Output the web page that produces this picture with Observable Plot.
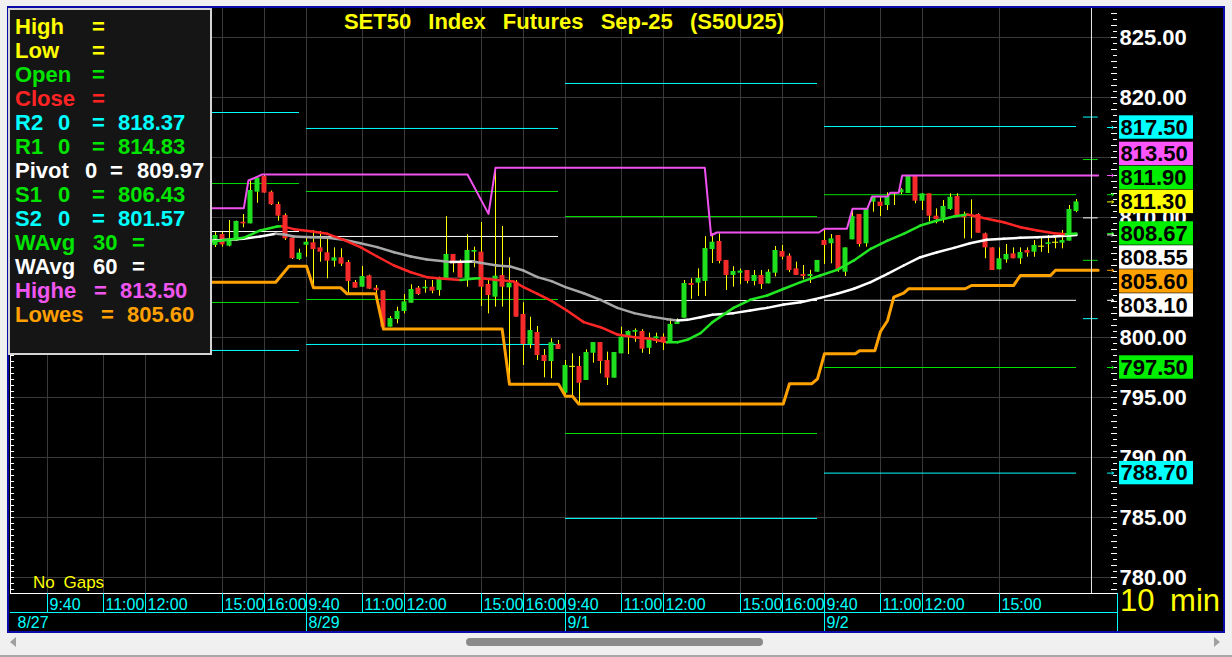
<!DOCTYPE html>
<html>
<head>
<meta charset="utf-8">
<script src="https://cdn.jsdelivr.net/npm/d3@7"></script>
<script src="https://cdn.jsdelivr.net/npm/@observablehq/plot@0.6"></script>
<style>
html,body{margin:0;padding:0;width:1232px;height:657px;overflow:hidden;background:#f0f0f0;}
body{position:relative;font-family:"Liberation Sans",Arial,sans-serif;}
#win{position:absolute;left:7px;top:6px;width:1218px;height:627px;box-sizing:border-box;border:2px solid #0a0aa8;background:#000;}
#chart{position:absolute;left:0;top:0;}
#title{position:absolute;left:0;width:1128px;top:9px;text-align:center;color:#ffff00;font:bold 22px "Liberation Sans",Arial,sans-serif;word-spacing:11px;line-height:26px;white-space:pre;}
#legend{position:absolute;left:8px;top:8px;width:204px;height:347px;box-sizing:border-box;border:2px solid #d4d4d4;background:#151515;}
.lg{position:absolute;font:bold 22px "Liberation Sans",Arial,sans-serif;line-height:24px;white-space:pre;}
#nogaps{position:absolute;left:33px;top:574px;color:#ffff00;font:17px "Liberation Sans",Arial,sans-serif;word-spacing:4px;line-height:18px;}
#tf{position:absolute;left:1120px;top:584px;color:#ffff00;font:31px "Liberation Sans",Arial,sans-serif;word-spacing:7px;line-height:34px;}
#thumb{position:absolute;left:466px;top:638px;width:297px;height:8px;border-radius:4px;background:#8a8a8a;}
#la{position:absolute;left:10px;top:637px;width:0;height:0;border-top:5px solid transparent;border-bottom:5px solid transparent;border-right:6px solid #a0a0a0;}
#ra{position:absolute;left:1214px;top:637px;width:0;height:0;border-top:5px solid transparent;border-bottom:5px solid transparent;border-left:6px solid #a0a0a0;}
#bl{position:absolute;left:0;top:655px;width:1232px;height:2px;background:#a8a8a8;}
</style>
</head>
<body>
<div id="win"></div>
<div id="chart"></div>
<div id="title">SET50 Index Futures Sep-25 (S50U25)</div>
<div id="legend"></div>
<div id="nogaps">No Gaps</div>
<div id="tf">10 min</div>
<div id="la"></div><div id="thumb"></div><div id="ra"></div>
<div id="bl"></div>
<script>
// ---------------- DATA ----------------
// bar slot: 0 = 8/29 09:40, one slot per 10-minute bar
const barSlot = d3.range(-13, 111);
const open = [
 807.67,808.58,807.61,808.03,809.61,809.47,812.11,813.42,812.11,811.08,810.17,808.28,806.50,
 807.69,807.89,807.47,807.06,806.36,806.64,806.25,804.58,804.19,805.14,804.11,803.89,800.86,801.50,802.17,802.86,804.11,804.06,804.19,803.92,804.89,806.92,806.19,804.89,807.11,807.11,804.42,803.36,805.17,804.14,804.61,801.92,799.42,800.42,798.50,798.00,799.42,
 795.36,797.60,797.58,796.42,798.69,799.58,798.08,796.61,798.64,800.00,800.44,800.50,799.10,799.89,800.03,799.50,801.08,801.61,804.50,804.53,804.67,807.33,808.00,806.42,805.17,805.36,805.58,804.67,805.17,804.47,805.36,807.17,806.78,805.72,805.25,805.08,805.44,
 808.08,807.81,808.50,805.44,808.14,810.25,807.81,811.28,811.28,811.00,812.06,812.06,812.00,813.50,811.36,811.97,810.11,809.94,810.67,811.75,810.25,810.17,810.25,808.64,807.47,805.64,806.47,806.97,806.56,807.25,807.11,807.61,807.75,807.94,807.86,808.03,810.50];
const high = [
 808.75,808.78,809.75,809.70,810.25,813.03,813.28,813.58,812.20,811.28,810.30,808.30,807.36,
 808.42,808.92,808.83,808.22,807.47,807.39,806.42,804.75,805.92,805.20,804.33,803.90,801.75,802.53,803.58,804.39,804.25,804.75,804.75,805.03,810.08,806.92,806.47,808.56,807.53,809.58,804.89,814.14,809.25,806.64,804.75,802.90,801.69,800.92,799.00,799.89,799.75,
 798.08,798.64,798.42,798.97,799.58,799.58,798.78,798.75,800.86,800.55,800.72,800.64,800.36,800.36,800.30,801.55,801.55,804.75,804.89,805.72,808.40,808.64,808.64,806.42,805.90,805.70,805.58,805.58,805.58,805.65,807.58,807.67,806.97,806.28,806.00,805.60,806.42,
 809.06,808.58,808.50,807.47,810.58,810.25,810.72,811.75,811.75,812.06,812.06,812.40,813.50,813.50,811.97,811.97,810.72,811.42,811.97,811.97,810.45,811.47,810.30,808.70,807.47,807.47,807.75,807.47,807.47,807.47,808.08,808.30,808.50,808.30,808.92,811.00,811.50];
const low = [
 807.50,807.53,807.55,808.00,809.14,809.47,811.19,812.03,811.00,809.69,808.08,806.50,806.42,
 806.69,804.14,806.28,804.89,805.86,805.92,803.64,804.11,804.19,804.00,803.64,800.86,800.86,801.14,801.97,802.86,803.50,803.69,803.64,803.44,804.75,805.39,804.97,804.19,805.81,802.58,801.97,802.53,802.53,796.10,801.69,797.67,799.06,798.08,796.64,796.56,799.00,
 795.17,795.08,794.47,796.42,797.86,796.97,796.00,796.61,798.64,798.58,799.60,798.69,798.58,799.50,798.92,799.50,801.08,801.61,803.18,803.42,803.42,806.17,806.14,803.92,804.20,804.40,804.47,804.30,804.00,804.47,805.05,806.47,805.40,805.17,804.80,804.50,805.44,
 806.08,806.14,805.44,805.08,808.14,807.53,807.53,810.44,810.08,810.58,811.00,811.90,812.00,811.14,810.58,809.61,809.47,809.53,810.58,810.08,808.22,808.22,808.69,806.56,805.58,805.64,806.19,806.56,806.08,806.69,806.69,807.10,807.00,807.39,807.39,808.03,810.40];
const close = [
 808.50,807.72,808.08,809.67,809.47,812.25,813.28,812.03,811.06,810.11,808.22,806.56,807.03,
 807.94,807.33,807.11,806.36,806.64,806.11,804.67,804.11,805.08,804.03,803.89,800.86,801.58,802.17,802.97,804.00,803.58,804.19,803.86,804.97,806.92,806.14,804.97,807.25,807.25,804.19,803.50,805.11,804.19,804.53,801.69,799.42,800.58,798.50,798.00,799.56,799.00,
 797.67,797.60,796.19,798.75,799.58,798.00,796.61,798.75,800.03,800.50,800.58,799.03,799.94,800.06,799.67,801.10,801.28,804.50,804.33,804.92,807.42,807.94,806.33,805.17,805.50,805.53,804.67,805.17,804.42,805.44,807.25,806.69,805.58,805.17,805.08,805.25,806.42,
 807.67,808.22,805.58,807.47,810.08,807.75,810.72,811.67,810.92,811.75,812.06,812.30,813.50,811.36,811.97,810.11,809.83,810.92,811.69,810.08,809.97,810.17,808.69,807.47,805.58,806.56,806.92,806.56,807.08,807.03,807.67,807.61,807.89,807.94,808.08,810.67,811.30];

// Weighted averages
const ma30Slot = [-14,-13,-9,-6.6,-4.2,-3.5,-1.8,0.6,3,5.3,7.7,10.1,12.5,14.9,17.2,19.6,22,24,25,27.2,29.6,31,33,35,37.2,39.6,42,44.4,46.8,49.1,51.5,53,54.4,56.3,58,61,63.4,65.8,68.2,70.6,73.4,75.8,78.2,80.6,83,85.3,87.7,90.1,92.5,94.4,97.2,99.6,102,104.4,106.8,108.5,110];
const ma30Val = [807.98,808.03,808.31,808.92,809.25,809.28,809.03,808.86,808.64,808.14,807.53,806.75,806.00,805.44,805.03,804.89,804.80,804.92,804.94,804.80,804.67,804.20,803.64,803.05,802.25,801.28,800.86,800.25,800.03,799.89,799.60,799.61,799.81,800.36,801.28,802.47,803.14,803.50,804.06,804.61,805.17,805.64,806.42,807.39,808.08,808.64,809.33,809.75,810.08,810.25,809.89,809.61,809.19,808.92,808.69,808.60,808.67];
const ma60Slot = [-14,-13,-9,-6.6,-4.4,-3.2,-1.8,0.6,3,5.3,7.7,10.1,12.5,14.9,17.2,19.6,20.6,23.8,25,27.2,29.1,31,33,35,37,39.6,42,44.4,46.8,49.1,51.5,53,54.4,56.3,58,61,63.4,65.8,68.2,70.6,73.4,75.8,78.2,80.6,83,85.3,87.7,90.1,92.5,94.8,97.2,99.6,102,104.4,106.8,110];
const ma60Val = [808.05,808.08,808.22,808.42,808.64,808.58,808.42,808.36,808.31,808.14,807.86,807.53,807.11,806.75,806.50,806.36,806.30,806.33,806.20,806.00,805.92,805.58,805.03,804.70,804.20,803.69,803.14,802.47,802.03,801.75,801.53,801.42,801.47,801.69,801.89,802.03,802.25,802.47,802.75,802.94,803.30,803.64,804.06,804.61,805.31,806.00,806.69,807.11,807.47,807.86,808.14,808.22,808.31,808.36,808.42,808.55];

// Highest / Lowest
const hiSlot = [-14,-8.95,-8.3,-7,-6.4,23,26,27,56.9,57.8,58.6,73.2,74,77.2,78,80.1,80.8,83,83.4,84.6,85.1,113.1];
const hiVal  = [810.78,810.78,813.08,813.40,813.58,813.58,810.30,814.14,814.14,808.50,808.75,808.75,809.06,809.06,810.72,810.72,811.75,811.75,812.06,812.06,813.50,813.50];
const loSlot = [-14,-4.4,-2.5,0,1,4.9,5.8,9.9,11,27.95,29,36,37,38,38.9,68.1,69,72.2,73,74,78.4,79,81.2,82,83,83.9,85.3,86,94.1,95,101,102,106.3,107,113.1];
const loVal  = [804.61,804.61,805.94,805.94,804.14,804.14,803.64,803.64,800.70,800.70,796.10,796.10,795.10,795.10,794.45,794.45,796.15,796.15,796.55,798.65,798.65,798.90,798.90,800.50,801.40,803.36,803.69,804.06,804.06,804.33,804.33,805.17,805.17,805.60,805.60];

// Daily pivot levels (8/28, 8/29, 9/1, 9/2)
const dayStart = [-37, 0, 37, 74];
const dayEnd   = [-1, 36, 73, 110];
const r2 = [818.75, 817.42, 821.17, 817.58];
const r1 = [812.83, 812.17, 810.08, 811.90];
const pv = [808.83, 808.42, 803.08, 803.10];
const s1 = [802.92, 803.17, 792.00, 797.50];
const s2 = [798.92, 799.42, 784.92, 788.70];
// next-session pivots ("0")
const nextNames = ["R2", "R1", "Pivot", "S1", "S2"];
const nextVals  = [818.37, 814.83, 809.97, 806.43, 801.57];

// Axis ticks / labels
const priceTicks = [780, 785, 790, 795, 800, 805, 810, 815, 820, 825];
const timeTickSlot  = [-37,-29,-23,-12,-6, 0,8,14,25,31, 37,45,51,62,68, 74,82,88,99];
const timeTickLabel = ["9:40","11:00","12:00","15:00","16:00","9:40","11:00","12:00","15:00","16:00","9:40","11:00","12:00","15:00","16:00","9:40","11:00","12:00","15:00"];
const dateTickSlot  = [0, 37, 74];
const dateTickLabel = ["8/29", "9/1", "9/2"];
const firstDate = "8/27";

// Right-side value tags
const tagValues = [817.50, 813.50, 811.90, 811.30, 808.67, 808.55, 805.60, 803.10, 797.50, 788.70];
const tagColors = ["#00ffff","#ff55ff","#00ee00","#ffff00","#00ee00","#ffffff","#ffa200","#ffffff","#00ee00","#00ffff"];
const tagAnchor = 3; // last price

// ---------------- LAYOUT ----------------
const W = 1232, H = 657;
const mL = 10, mR = 115, mT = 8, mB = 64;
const xDomain = [-42.2857, 115.8571];
const yDomain = [778.6667, 827.4167];
const xs = d3.scaleLinear(xDomain, [mL, W - mR]);
const ys = d3.scaleLinear(yDomain, [H - mB, mT]);

const cyan = "#00ffff", yellow = "#ffff00", white = "#ffffff", gridC = "#3a3a3a";
const upC = "#1ee01e", dnC = "#f52a2a", pivGreen = "#00e000";
const ma30Up = "#22e622", ma30Dn = "#ff2626", ma60Up = "#ffffff", ma60Dn = "#a8a8a8";
const hiC = "#f052f0", loC = "#ffa200";

const bars = barSlot.map((k, i) => ({k, o: open[i], h: high[i], l: low[i], c: close[i]}));
const bodies = bars.filter(d => d.o !== d.c);
const dojis = bars.filter(d => d.o === d.c);
const hw = 2.5 / 7;
const bodyMin = 0.1;

function segments(ks, vs, up, dn) {
  const out = [];
  for (let i = 0; i < ks.length - 1; i++) {
    const col = vs[i + 1] >= vs[i] ? up : dn;
    out.push({k: ks[i], v: vs[i], id: i, col}, {k: ks[i + 1], v: vs[i + 1], id: i, col});
  }
  return out;
}
const ma30Seg = segments(ma30Slot, ma30Val, ma30Up, ma30Dn);
const ma60Seg = segments(ma60Slot, ma60Val, ma60Up, ma60Dn);
const hiLine = hiSlot.map((k, i) => ({k, v: hiVal[i]}));
const loLine = loSlot.map((k, i) => ({k, v: loVal[i]}));

const pivRows = [];
dayStart.forEach((k0, i) => {
  [[r2, cyan], [r1, pivGreen], [pv, white], [s1, pivGreen], [s2, cyan]].forEach(([arr, col]) => {
    pivRows.push({k1: k0, k2: dayEnd[i], v: arr[i], col});
  });
});
const nextCols = [cyan, pivGreen, white, pivGreen, cyan];
const nextRows = nextVals.map((v, i) => ({v, col: nextCols[i]}));

// tag placement (stack away from the last-price tag)
const tagH = 24;
const tags = tagValues.map((v, i) => ({v, col: tagColors[i], px: ys(v)}));
tags[tagAnchor].py = tags[tagAnchor].px;
for (let i = tagAnchor - 1; i >= 0; i--) tags[i].py = Math.min(tags[i].px, tags[i + 1].py - tagH);
for (let i = tagAnchor + 1; i < tags.length; i++) tags[i].py = Math.max(tags[i].px, tags[i - 1].py + tagH);
tags.forEach(t => { t.lp = ys.invert(t.py); t.y1 = ys.invert(t.py - 11.7); t.y2 = ys.invert(t.py + 11.7); });
// price labels that sit fully behind a tag are not shown (as in the source chart)
const shownTicks = priceTicks.filter(t => !tags.some(g => Math.abs(ys(t) - g.py) <= 7));

const minorTicks = d3.range(779, 827.01, 0.5);
const frameL = xDomain[0], frameR = xDomain[1];
const axisRowBottom = ys.invert(612), dateRowBottom = ys.invert(631);
const ff = "Liberation Sans, Arial, sans-serif";

const chart = Plot.plot({
  width: W, height: H,
  marginLeft: mL, marginRight: mR, marginTop: mT, marginBottom: mB,
  style: {background: "transparent", overflow: "visible"},
  x: {domain: xDomain, axis: null},
  y: {domain: yDomain},
  color: {type: "identity"},
  marks: [
    // grid
    Plot.ruleY(priceTicks, {stroke: gridC}),
    Plot.ruleX(timeTickSlot, {stroke: gridC}),
    // pivot levels
    Plot.ruleY(pivRows, {y: "v", x1: "k1", x2: "k2", stroke: "col", strokeWidth: 1}),
    Plot.ruleY(nextRows, {y: "v", x1: 111, x2: 113.1, stroke: "col", strokeWidth: 1}),
    // candles
    Plot.ruleX(bars, {x: "k", y1: "l", y2: "h", stroke: yellow, strokeWidth: 1}),
    Plot.rect(bodies, {
      x1: d => d.k - hw, x2: d => d.k + hw,
      y1: "o",
      y2: d => Math.abs(d.c - d.o) < bodyMin ? d.o + (d.c > d.o ? bodyMin : -bodyMin) : d.c,
      fill: d => d.c > d.o ? upC : dnC
    }),
    Plot.ruleY(dojis, {y: "o", x1: d => d.k - 3 / 7, x2: d => d.k + 3 / 7, stroke: yellow}),
    // highest / lowest
    Plot.line(hiLine, {x: "k", y: "v", stroke: hiC, strokeWidth: 2}),
    Plot.line(loLine, {x: "k", y: "v", stroke: loC, strokeWidth: 3}),
    // weighted averages
    Plot.line(ma60Seg, {x: "k", y: "v", z: "id", stroke: "col", strokeWidth: 2.5, strokeLinecap: "round"}),
    Plot.line(ma30Seg, {x: "k", y: "v", z: "id", stroke: "col", strokeWidth: 2.5, strokeLinecap: "round"}),
    // current-time marker
    Plot.ruleX([112.14], {stroke: "#e8e8e8"}),
    // frame edges
    Plot.ruleX([frameL], {stroke: white}),
    Plot.ruleY([yDomain[0]], {stroke: white}),
    // minor ticks
    Plot.ruleY(minorTicks, {y: d => d, x1: frameL, x2: xs.invert(mL + 4), stroke: white}),
    Plot.ruleY(minorTicks, {y: d => d, x1: d => xs.invert(W - mR - (d % 1 === 0 ? 6 : 4)), x2: frameR, stroke: white}),
    // right price axis
    Plot.axisY({anchor: "right", ticks: shownTicks, tickSize: 0, tickPadding: 2,
      tickFormat: d => d.toFixed(2), color: white, fontSize: 22, fontWeight: "bold", fontFamily: ff}),
    // value tags
    Plot.arrow(tags, {x1: xs.invert(W - mR - 10), x2: xs.invert(W - mR - 4), y1: "v", y2: "v",
      stroke: "col", strokeWidth: 1, headLength: 4, headAngle: 80}),
    Plot.rect(tags, {x1: xs.invert(W - mR + 2), x2: xs.invert(W - mR + 76), y1: "y1", y2: "y2", fill: "col"}),
    Plot.text(tags, {x: xs.invert(W - mR + 3), y: "lp", text: d => d.v.toFixed(2), fill: "black",
      fontSize: 22, fontWeight: "bold", textAnchor: "start", lineAnchor: "middle", fontFamily: ff}),
    // time axis
    Plot.ruleY([axisRowBottom], {stroke: cyan}),
    Plot.ruleX(timeTickSlot, {x: d => d, y1: yDomain[0], y2: axisRowBottom, stroke: cyan}),
    Plot.text(timeTickSlot, {x: d => d, text: (d, i) => timeTickLabel[i], frameAnchor: "bottom",
      dy: 11, dx: 2, textAnchor: "start", lineAnchor: "middle", fill: cyan, fontSize: 16, fontFamily: ff}),
    Plot.ruleX(dateTickSlot, {x: d => d, y1: axisRowBottom, y2: dateRowBottom, stroke: cyan}),
    Plot.text(dateTickSlot, {x: d => d, text: (d, i) => dateTickLabel[i], frameAnchor: "bottom",
      dy: 29, dx: 2, textAnchor: "start", lineAnchor: "middle", fill: cyan, fontSize: 16, fontFamily: ff}),
    Plot.text([firstDate], {x: frameL, text: d => d, frameAnchor: "bottom", dy: 29, dx: 7,
      textAnchor: "start", lineAnchor: "middle", fill: cyan, fontSize: 16, fontFamily: ff}),
    Plot.ruleX([frameR], {y1: yDomain[0], y2: dateRowBottom, stroke: cyan})
  ]
});
document.getElementById("chart").appendChild(chart);

// ---------------- LEGEND ----------------
const G = "#00e400", R = "#ff2424", M = "#f055f0", O = "#ffa000";
const fmt = v => v.toFixed(2);
const legendRows = [
  {c: yellow, p: [["High", 15], ["=", 92]]},
  {c: yellow, p: [["Low", 15], ["=", 92]]},
  {c: G, p: [["Open", 15], ["=", 92]]},
  {c: R, p: [["Close", 15], ["=", 92]]},
  {c: cyan, p: [["R2", 15], ["0", 58], ["=", 92], [fmt(nextVals[0]), 118]]},
  {c: G, p: [["R1", 15], ["0", 58], ["=", 92], [fmt(nextVals[1]), 118]]},
  {c: white, p: [["Pivot", 15], ["0", 85], ["=", 110], [fmt(nextVals[2]), 137]]},
  {c: G, p: [["S1", 15], ["0", 58], ["=", 92], [fmt(nextVals[3]), 118]]},
  {c: cyan, p: [["S2", 15], ["0", 58], ["=", 92], [fmt(nextVals[4]), 118]]},
  {c: G, p: [["WAvg", 15], ["30", 93], ["=", 132]]},
  {c: white, p: [["WAvg", 15], ["60", 93], ["=", 132]]},
  {c: M, p: [["Highe", 15], ["=", 94], [fmt(hiVal[hiVal.length - 1]), 120]]},
  {c: O, p: [["Lowes", 15], ["=", 101], [fmt(loVal[loVal.length - 1]), 127]]}
];
legendRows.forEach((row, i) => {
  row.p.forEach(([t, x]) => {
    const s = document.createElement("div");
    s.className = "lg";
    s.textContent = t;
    s.style.left = x + "px";
    s.style.top = (15 + i * 24) + "px";
    s.style.color = row.c;
    document.body.appendChild(s);
  });
});
</script>
</body>
</html>
